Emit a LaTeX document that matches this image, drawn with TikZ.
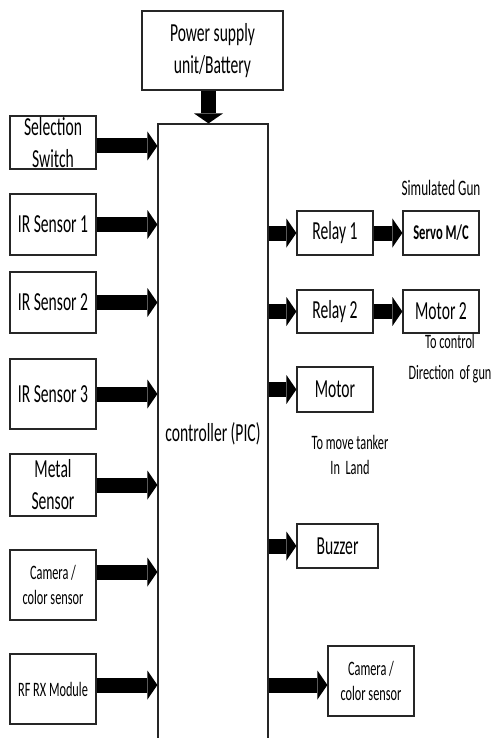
\documentclass[tikz,border=0pt]{standalone}
\usepackage{fontspec}
\setmainfont{Carlito}[FakeStretch=0.6]
\usetikzlibrary{arrows.meta}
\begin{document}
\begin{tikzpicture}[x=1pt,y=-1pt,
  box/.style={draw=black!85,line width=1.2pt,fill=white,inner sep=0pt,align=center,font=\fontsize{26}{32}\selectfont},
  smallbox/.style={box,font=\fontsize{20.5}{25}\selectfont},
  note/.style={inner sep=0pt,align=center,font=\fontsize{20.5}{31}\selectfont},
  bigarr/.style={line width=15pt,-{Triangle[width=29pt,length=10pt,line width=0pt]}},
]
\useasboundingbox (0,0) rectangle (493,738);
% controller
\node[box,minimum width=110pt,minimum height=620pt] (ctrl) at (213,434) {controller (PIC)};
% power
\node[box,minimum width=141pt,minimum height=79pt] (pow) at (212.5,50.5) {Power supply\\unit/Battery};
% left column
\node[box,minimum width=86pt,minimum height=53pt] (sel) at (53,142.5) {Selection\\Switch};
\node[box,minimum width=86pt,minimum height=61pt] (ir1) at (53,224.5) {IR Sensor 1};
\node[box,minimum width=86pt,minimum height=61pt] (ir2) at (53,302.5) {IR Sensor 2};
\node[box,minimum width=86pt,minimum height=70pt] (ir3) at (53,394) {IR Sensor 3};
\node[box,minimum width=86pt,minimum height=62pt] (metal) at (53,485) {Metal\\Sensor};
\node[smallbox,minimum width=86pt,minimum height=70pt] (cam1) at (53,585) {Camera /\\color sensor};
\node[smallbox,minimum width=86pt,minimum height=70pt] (rf) at (53,689) {RF RX Module};
% right column
\node[box,minimum width=76pt,minimum height=44pt] (r1) at (335,233) {Relay 1};
\node[box,minimum width=76pt,minimum height=44pt,font=\fontsize{21}{25}\selectfont\bfseries] (servo) at (441,233) {Servo M/C};
\node[note,font=\fontsize{22}{26}\selectfont] (gun) at (441,188) {Simulated Gun};
\node[box,minimum width=76pt,minimum height=43pt] (r2) at (335,311.5) {Relay 2};
\node[box,minimum width=76pt,minimum height=43pt] (m2) at (441,311.5) {Motor 2};
\node[note] (dir) at (450,359) {To control\\Direction\ \ of gun};
\node[box,minimum width=76pt,minimum height=45pt] (motor) at (335,389.5) {Motor};
\node[note,font=\fontsize{20.5}{25}\selectfont] (move) at (350,454.5) {To move tanker\\In\ \ Land};
\node[box,minimum width=81pt,minimum height=44pt] (buz) at (337.5,546) {Buzzer};
\node[smallbox,minimum width=86pt,minimum height=70pt] (cam2) at (371,681) {Camera /\\color sensor};
% arrows
\draw[bigarr] ([xshift=-4pt]pow.south) -- ([xshift=-4pt]pow.south |- ctrl.north);
\draw[bigarr] ([yshift=-3.5pt]sel.east) -- ([yshift=-3.5pt]sel.east -| ctrl.west);
\draw[bigarr] (ir1.east) -- (ir1.east -| ctrl.west);
\draw[bigarr] (ir2.east) -- (ir2.east -| ctrl.west);
\draw[bigarr] (ir3.east) -- (ir3.east -| ctrl.west);
\draw[bigarr] (metal.east) -- (metal.east -| ctrl.west);
\draw[bigarr] ([yshift=13pt]cam1.east) -- ([yshift=13pt]cam1.east -| ctrl.west);
\draw[bigarr] ([yshift=4pt]rf.east) -- ([yshift=4pt]rf.east -| ctrl.west);
\draw[bigarr] (r1.west -| ctrl.east) -- (r1.west);
\draw[bigarr] (r1.east) -- (servo.west);
\draw[bigarr] (r2.west -| ctrl.east) -- (r2.west);
\draw[bigarr] (r2.east) -- (m2.west);
\draw[bigarr] (motor.west -| ctrl.east) -- (motor.west);
\draw[bigarr] (buz.west -| ctrl.east) -- (buz.west);
\draw[bigarr] ([yshift=-4pt]cam2.west -| ctrl.east) -- ([yshift=-4pt]cam2.west);
\end{tikzpicture}
\end{document}
